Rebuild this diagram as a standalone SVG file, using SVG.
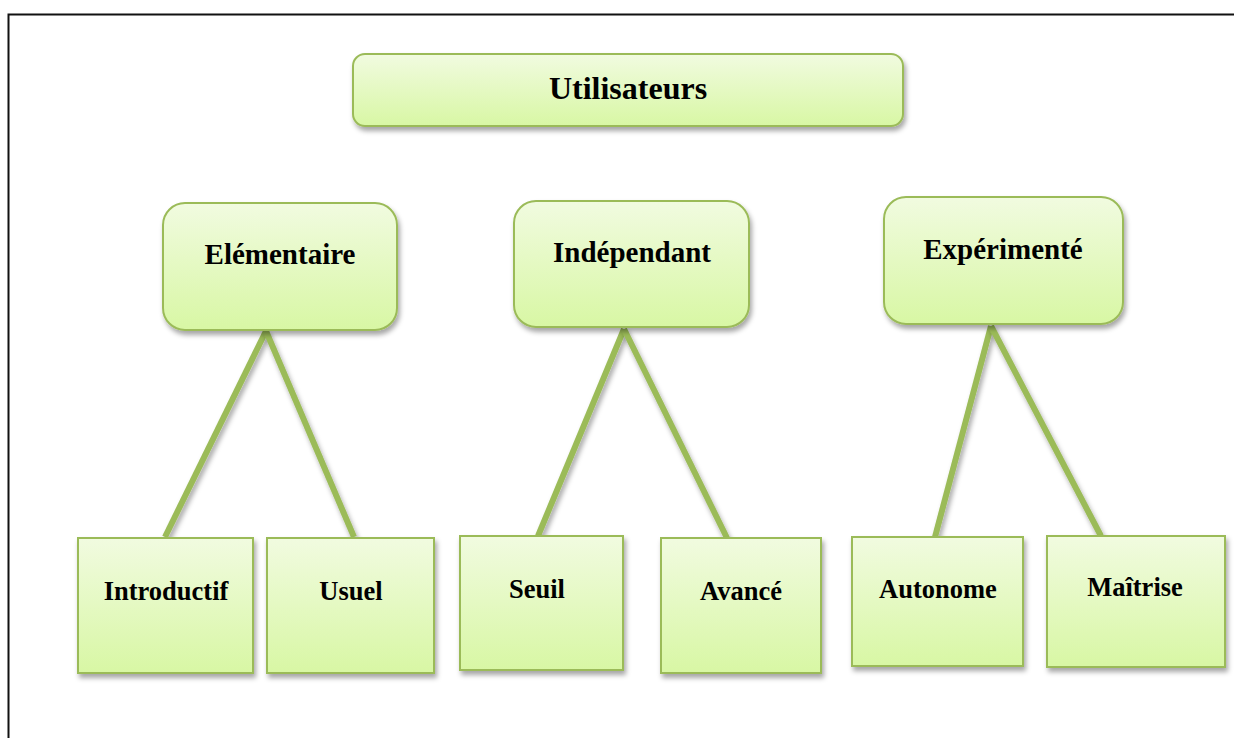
<svg xmlns="http://www.w3.org/2000/svg" width="1234" height="738" viewBox="0 0 1234 738">
  <defs>
    <linearGradient id="fillGreen" x1="0" y1="0" x2="0" y2="1">
      <stop offset="0" stop-color="#f1fbe0"/>
      <stop offset="1" stop-color="#d8f7a4"/>
    </linearGradient>
    <filter id="shadow" x="-10%" y="-10%" width="125%" height="130%">
      <feDropShadow dx="2" dy="4" stdDeviation="2.5" flood-color="#000" flood-opacity="0.35"/>
    </filter>
  </defs>
  <style>
    .box { fill: url(#fillGreen); stroke: #9bbb59; stroke-width: 2; filter: url(#shadow); }
    .lbl { font-family: "Liberation Serif", "Times New Roman", serif; font-weight: bold; fill: #000; text-anchor: middle; }
    .big { font-size: 32px; }
    .mid { font-size: 29px; }
    .small { font-size: 26.5px; }
    .link { stroke: #9bbb59; stroke-width: 6; fill: none; filter: url(#shadow); }
  </style>

  <rect width="1234" height="738" fill="#fff"/>
  <!-- page frame -->
  <path d="M8.5 738 V14.5 H1234" fill="none" stroke="#111" stroke-width="2"/>

  <!-- connectors -->
  <g id="connectors">
    <line class="link" x1="266" y1="331" x2="165" y2="537"/>
    <line class="link" x1="266" y1="331" x2="354" y2="537"/>
    <line class="link" x1="624" y1="329" x2="538" y2="536"/>
    <line class="link" x1="624" y1="329" x2="727" y2="538"/>
    <line class="link" x1="991" y1="326" x2="935" y2="537"/>
    <line class="link" x1="991" y1="326" x2="1101" y2="536"/>
  </g>

  <g id="utilisateurs">
    <rect class="box" x="353" y="54" width="550" height="72" rx="12"/>
    <text class="lbl big" x="628" y="99">Utilisateurs</text>
  </g>

  <g id="elementaire">
    <rect class="box" x="163" y="203" width="234" height="127" rx="22"/>
    <text class="lbl mid" x="280" y="264">Elémentaire</text>
  </g>
  <g id="independant">
    <rect class="box" x="514" y="201" width="235" height="126" rx="22"/>
    <text class="lbl mid" x="632" y="262">Indépendant</text>
  </g>
  <g id="experimente">
    <rect class="box" x="884" y="197" width="239" height="127" rx="22"/>
    <text class="lbl mid" x="1003" y="259">Expérimenté</text>
  </g>

  <g id="introductif">
    <rect class="box" x="78" y="538" width="175" height="135"/>
    <text class="lbl small" x="166" y="600">Introductif</text>
  </g>
  <g id="usuel">
    <rect class="box" x="267" y="538" width="167" height="135"/>
    <text class="lbl small" x="351" y="600">Usuel</text>
  </g>
  <g id="seuil">
    <rect class="box" x="460" y="536" width="163" height="134"/>
    <text class="lbl small" x="537" y="598">Seuil</text>
  </g>
  <g id="avance">
    <rect class="box" x="661" y="538" width="160" height="135"/>
    <text class="lbl small" x="741" y="600">Avancé</text>
  </g>
  <g id="autonome">
    <rect class="box" x="852" y="537" width="171" height="129"/>
    <text class="lbl small" x="938" y="598">Autonome</text>
  </g>
  <g id="maitrise">
    <rect class="box" x="1047" y="536" width="178" height="131"/>
    <text class="lbl small" x="1135" y="596">Maîtrise</text>
  </g>
</svg>
